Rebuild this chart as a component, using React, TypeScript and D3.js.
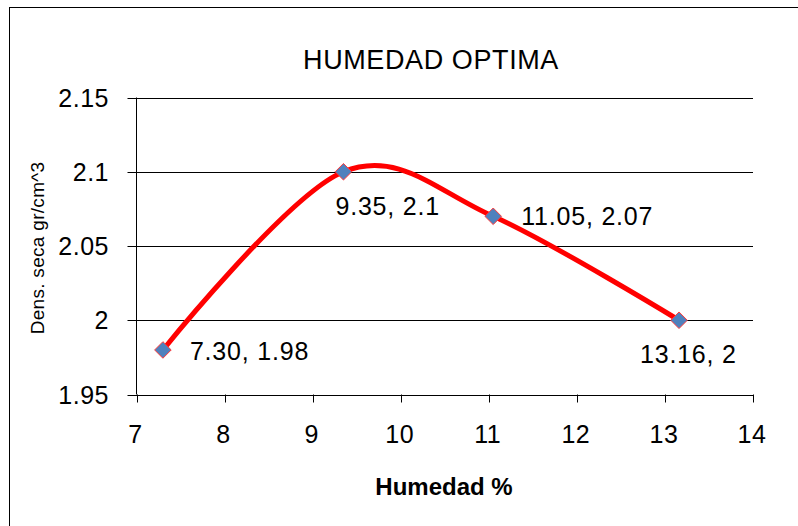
import { useMemo } from 'react'
import { scaleLinear, line, curveCardinal, symbol, symbolDiamond2 } from 'd3'

const humedad = [7.3, 9.35, 11.05, 13.16]
const densidad = [1.98, 2.1, 2.07, 2.0]
const pointLabels = ['7.30, 1.98', '9.35, 2.1', '11.05, 2.07', '13.16, 2']
const xTicks = [7, 8, 9, 10, 11, 12, 13, 14]
const yTicks = [1.95, 2.0, 2.05, 2.1, 2.15]
const yTickLabels = ['1.95', '2', '2.05', '2.1', '2.15']

// where each data label sits relative to its point
const labelOffsets = [
    { dx: 27, dy: 10 },
    { dx: -8, dy: 43 },
    { dx: 28, dy: 9 },
    { dx: -39, dy: 43 },
]

const W = 798
const H = 526
const FONT = '"Liberation Sans", Arial, sans-serif'

function App() {
    const x = scaleLinear().domain([7, 14]).range([136.5, 753])
    const y = scaleLinear().domain([1.95, 2.15]).range([394.5, 97.5])

    const pts = humedad.map((h, i) => [h, densidad[i]] as [number, number])

    const path = useMemo(() => line<[number, number]>()
        .x(d => x(d[0]))
        .y(d => y(d[1]))
        .curve(curveCardinal.tension(0))(pts), [])

    const marker = symbol().type(symbolDiamond2).size(175)()

    return (
        <svg width={W} height={H} style={{ position: 'absolute', left: 0, top: 0, fontFamily: FONT }}>
            <rect x={0} y={0} width={W} height={H} fill='#fff' />
            <rect x={9.5} y={7.5} width={W + 20} height={H + 20} fill='none' stroke='#000' strokeWidth={1} />

            <text x={431} y={69} textAnchor='middle' fontSize={27} letterSpacing={0.6}>HUMEDAD OPTIMA</text>

            {/* gridlines + y ticks */}
            {yTicks.map((t, i) => (
                <g key={t}>
                    <line x1={127.5} x2={753} y1={Math.round(y(t)) + 0.5} y2={Math.round(y(t)) + 0.5} stroke='#000' />
                    <text x={109} y={y(t) + 9} textAnchor='end' fontSize={25} letterSpacing={0.5}>{yTickLabels[i]}</text>
                </g>
            ))}
            <line x1={136.5} x2={136.5} y1={y(2.15)} y2={y(1.95)} stroke='#000' />

            {/* x ticks */}
            {xTicks.map(t => (
                <g key={t}>
                    <line x1={Math.round(x(t)) + 0.5} x2={Math.round(x(t)) + 0.5} y1={y(1.95)} y2={y(1.95) + 8} stroke='#000' />
                    <text x={x(t) - 1} y={443} textAnchor='middle' fontSize={25} letterSpacing={0.5}>{t}</text>
                </g>
            ))}

            <text x={444} y={495} textAnchor='middle' fontSize={24} fontWeight='bold'>Humedad %</text>
            <text transform='translate(44,248) rotate(-90)' textAnchor='middle' fontSize={19} letterSpacing={0.3}>Dens. seca gr/cm^3</text>

            <path d={path || ''} fill='none' stroke='#ff0000' strokeWidth={5} strokeLinecap='round' />

            {pts.map((p, i) => (
                <path key={i} d={marker || ''} transform={`translate(${x(p[0])},${y(p[1])})`}
                    fill='#4f81bd' stroke='#ff3b3b' strokeWidth={1} />
            ))}

            {pts.map((p, i) => (
                <text key={'l' + i} x={x(p[0]) + labelOffsets[i].dx} y={y(p[1]) + labelOffsets[i].dy} fontSize={25} letterSpacing={0.8}>
                    {pointLabels[i]}
                </text>
            ))}
        </svg>
    )
}

export default App
